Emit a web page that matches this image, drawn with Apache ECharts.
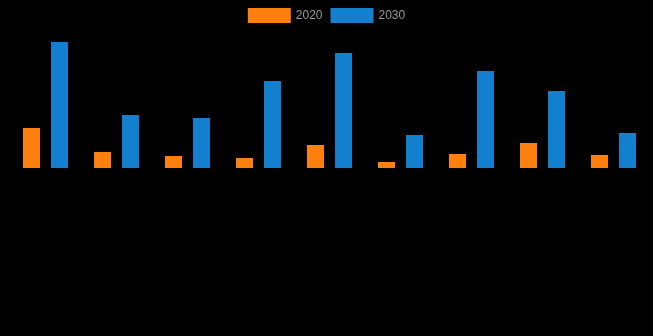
<!DOCTYPE html>
<html><head><meta charset="utf-8">
<script src="https://cdn.jsdelivr.net/npm/echarts@6/dist/echarts.min.js"></script>
<style>html,body{margin:0;padding:0;background:#000;}#c{width:653px;height:336px;}</style>
</head><body><div id="c"></div>
<script>
const categories = ['C1','C2','C3','C4','C5','C6','C7','C8','C9'];
const values2020 = [40, 16, 12, 10, 23, 6, 14, 25, 13];
const values2030 = [126, 53, 50, 87, 115, 33, 97, 77, 35];
const chart = echarts.init(document.getElementById('c'));
chart.setOption({
  backgroundColor: '#000',
  animation: false,
  legend: {
    top: 3, left: 'center', itemWidth: 43, itemHeight: 15, itemGap: 8, icon: 'rect',
    textStyle: { color: '#999', fontSize: 12 },
    data: ['2020', '2030']
  },
  grid: { left: 10, right: 4, top: 28, bottom: 168 },
  xAxis: { type: 'category', data: categories, show: false },
  yAxis: { type: 'value', min: 0, max: 140, show: false },
  series: [
    { name: '2020', type: 'bar', data: values2020, barWidth: 17, barGap: '65%', itemStyle: { color: '#ff800e' } },
    { name: '2030', type: 'bar', data: values2030, barWidth: 17, itemStyle: { color: '#1280cf' } }
  ]
});
</script></body></html>
